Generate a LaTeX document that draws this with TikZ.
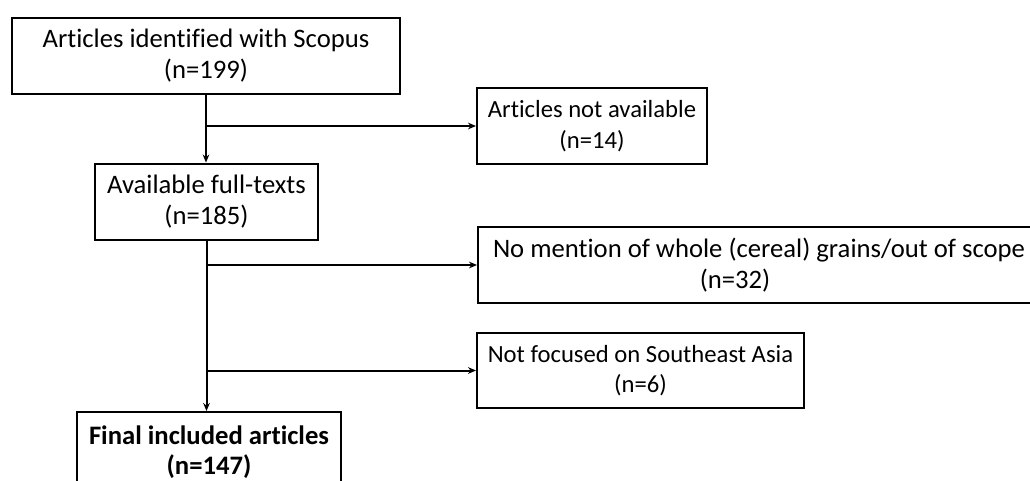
\documentclass[tikz,border=0pt]{standalone}
\usepackage{fontspec}
\setmainfont{Carlito}[Ligatures={NoCommon}]
\usetikzlibrary{arrows.meta}

\newlength\unitL
\setlength\unitL{0.75pt}

\begin{document}
\begin{tikzpicture}[x=\unitL, y=\unitL, >={Stealth[length=6pt,width=5pt]}, line width=1.5pt,
	stage/.style={draw, align=center, inner sep=0pt, minimum height=76\unitL,
		font=\fontsize{20}{23}\selectfont},
	small/.style={font=\fontsize{18.5}{23}\selectfont}]
	
	% === Page frame (box on the right and box at the bottom run off the page) ===
	\clip (0,0) rectangle (1030,480);
	
	% === Main column ===
	\node[stage, minimum width=388\unitL] (scopus) at (206,424.5) {Articles identified with Scopus\\(n=199)};
	\node[stage, minimum width=223\unitL] (fulltext) at (206.5,278.5) {Available full-texts\\(n=185)};
	\node[stage, minimum width=264\unitL, minimum height=80\unitL, font=\fontsize{20}{23}\selectfont\bfseries] (final) at (209,28) {Final included articles\\(n=147)};
	
	% === Excluded records ===
	\node[stage, small, minimum width=230\unitL] (navail) at (592,354) {Articles not available\\(n=14)};
	\node[stage, minimum width=562\unitL] (nomention) at (759,215) {No mention of whole (cereal) grains/out of scope\\\hspace*{-48\unitL}(n=32)};
	\node[stage, small, minimum width=327\unitL, minimum height=75\unitL] (notfocus) at (640.5,109.5) {Not focused on Southeast Asia\\(n=6)};
	
	% === Flow down ===
	\draw[->] (scopus.south) -- (scopus.south |- fulltext.north);
	\draw[->] (fulltext.south) -- (fulltext.south |- final.north);
	
	% === Branches to the right ===
	\draw[->] (scopus.south |- navail.west) -- (navail.west);
	\draw[->] (fulltext.south |- nomention.west) -- (nomention.west);
	\draw[->] (fulltext.south |- notfocus.west) -- (notfocus.west);
	
\end{tikzpicture}
\end{document}
